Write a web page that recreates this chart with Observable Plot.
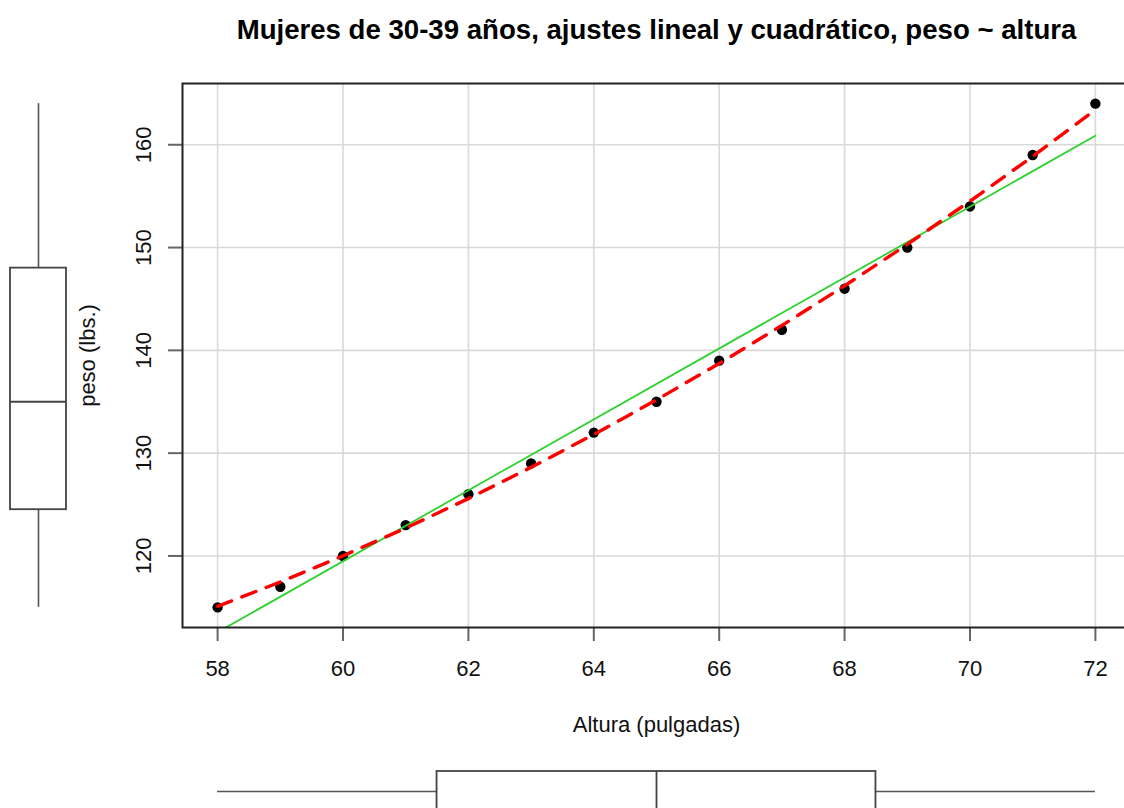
<!DOCTYPE html>
<html>
<head>
<meta charset="utf-8">
<script src="https://cdn.jsdelivr.net/npm/d3@7"></script>
<script src="https://cdn.jsdelivr.net/npm/@observablehq/plot@0.6"></script>
<style>
  html, body { margin: 0; padding: 0; background: #fff; }
  #wrap { position: relative; width: 1124px; height: 808px; overflow: hidden; }
  #wrap svg { position: absolute; left: 0; top: 0; }
</style>
</head>
<body>
<div id="wrap"></div>
<script>
// women dataset (R): height in inches, weight in lbs
const heights = [58, 59, 60, 61, 62, 63, 64, 65, 66, 67, 68, 69, 70, 71, 72];
const weights = [115, 117, 120, 123, 126, 129, 132, 135, 139, 142, 146, 150, 154, 159, 164];
// fitted values of the quadratic model weight ~ height + height^2
const quadFit = [115.10, 117.47, 120.01, 122.71, 125.58, 128.62, 131.82, 135.18, 138.72, 142.42, 146.28, 150.31, 154.51, 158.87, 163.40];
const xTicks = [58, 60, 62, 64, 66, 68, 70, 72];
const yTicks = [120, 130, 140, 150, 160];
const titleText = "Mujeres de 30-39 años, ajustes lineal y cuadrático, peso ~ altura";
const xLabel = "Altura (pulgadas)";
const yLabel = "peso (lbs.)";

const data = heights.map((h, i) => ({h, w: weights[i], q: quadFit[i]}));

const W = 1124, H = 808;
const mLeft = 182, mRight = -6, mTop = 83, mBottom = 181;
const xDomain = [57.44, 72.56];
const yDomain = [113.04, 165.96];
const font = "'Liberation Sans', Arial, Helvetica, sans-serif";
const wrap = document.getElementById("wrap");

const main = Plot.plot({
  width: W, height: H,
  marginLeft: mLeft, marginRight: mRight, marginTop: mTop, marginBottom: mBottom,
  x: {domain: xDomain},
  y: {domain: yDomain},
  style: {fontFamily: font, fontSize: "16px", background: "transparent", overflow: "visible", color: "#111"},
  marks: [
    Plot.gridX(xTicks, {stroke: "#d9d9d9", strokeOpacity: 1, strokeWidth: 1.6}),
    Plot.gridY(yTicks, {stroke: "#d9d9d9", strokeOpacity: 1, strokeWidth: 1.6}),
    Plot.axisX({ticks: xTicks, tickSize: 14, tickFormat: () => "", stroke: "#666", strokeWidth: 2, label: null}),
    Plot.axisY({ticks: yTicks, tickSize: 14, tickFormat: () => "", stroke: "#666", strokeWidth: 2, label: null}),
    Plot.text(xTicks, {x: d => d, frameAnchor: "bottom", dy: 48, text: d => String(d), fontSize: 22, fill: "#111"}),
    Plot.text(yTicks, {y: d => d, frameAnchor: "left", dx: -39, rotate: -90, textAnchor: "middle", text: d => String(d), fontSize: 22, fill: "#111"}),
    Plot.text([xLabel], {frameAnchor: "bottom", dy: 104, text: d => d, fontSize: 22, fill: "#111"}),
    Plot.text([yLabel], {frameAnchor: "left", dx: -95, rotate: -90, textAnchor: "middle", text: d => d, fontSize: 22, fill: "#111"}),
    Plot.text([titleText], {frameAnchor: "top", dy: -64, text: d => d, fontSize: 27.6, fontWeight: "bold", fill: "#000"}),
    Plot.dot(data, {x: "h", y: "w", r: 5.2, fill: "#000", stroke: null}),
    Plot.linearRegressionY(data, {x: "h", y: "w", stroke: "#2ed12e", strokeWidth: 1.8, ci: 0, clip: true}),
    Plot.line(data, {x: "h", y: "q", stroke: "#ff0000", strokeWidth: 3.4, strokeDasharray: "15,11", strokeLinecap: "round", clip: true}),
    Plot.frame({stroke: "#222", strokeWidth: 2})
  ]
});
wrap.appendChild(main);

// statistics for the marginal boxplots (computed from the data)
function five(v) {
  const s = v.slice().sort(d3.ascending);
  return {min: d3.min(s), q1: d3.quantile(s, 0.25), med: d3.median(s), q3: d3.quantile(s, 0.75), max: d3.max(s)};
}
const ws = five(weights);
const hs = five(heights);
const boxStroke = "#444";

// left boxplot of weight
const leftBox = Plot.plot({
  width: 76, height: H,
  marginLeft: 10, marginRight: 10, marginTop: mTop, marginBottom: mBottom,
  x: {domain: [0, 1], axis: null},
  y: {domain: yDomain, axis: null},
  style: {background: "transparent", overflow: "visible"},
  marks: [
    Plot.ruleX([ws], {x: 0.5, y1: "min", y2: "q1", stroke: "#555", strokeWidth: 1.6}),
    Plot.ruleX([ws], {x: 0.5, y1: "q3", y2: "max", stroke: "#555", strokeWidth: 1.6}),
    Plot.rect([ws], {x1: 0, x2: 1, y1: "q1", y2: "q3", fill: "#fff", stroke: boxStroke, strokeWidth: 1.8}),
    Plot.ruleY([ws], {y: "med", x1: 0, x2: 1, stroke: boxStroke, strokeWidth: 1.8})
  ]
});
wrap.appendChild(leftBox);

// bottom boxplot of height
const bottomBox = Plot.plot({
  width: W, height: H,
  marginLeft: mLeft, marginRight: mRight, marginTop: 0, marginBottom: 0,
  x: {domain: xDomain, axis: null},
  y: {domain: [0, 1], range: [811, 771], axis: null},
  style: {background: "transparent", overflow: "visible"},
  marks: [
    Plot.ruleY([hs], {y: 0.5, x1: "min", x2: "q1", stroke: "#555", strokeWidth: 1.6}),
    Plot.ruleY([hs], {y: 0.5, x1: "q3", x2: "max", stroke: "#555", strokeWidth: 1.6}),
    Plot.rect([hs], {x1: "q1", x2: "q3", y1: 0, y2: 1, fill: "#fff", stroke: boxStroke, strokeWidth: 1.8}),
    Plot.ruleX([hs], {x: "med", y1: 0, y2: 1, stroke: boxStroke, strokeWidth: 1.8})
  ]
});
wrap.appendChild(bottomBox);
</script>
</body>
</html>
